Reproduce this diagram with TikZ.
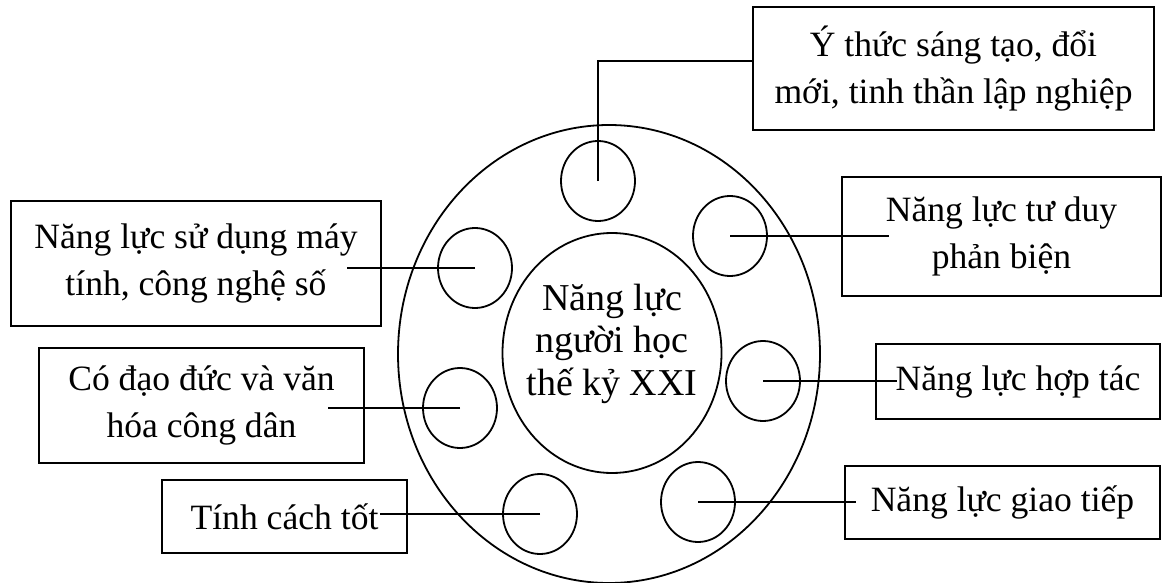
\documentclass[tikz,border=0pt]{standalone}
\usepackage{fontspec}
\setmainfont{Liberation Serif}
\usetikzlibrary{shapes.geometric}

\begin{document}
\begin{tikzpicture}[x=0.5pt, y=-0.5pt,
    box/.style={draw, fill=white, align=center, inner sep=0pt,
        line width=0.8pt,
        font=\fontsize{17.8}{23.5}\selectfont},
    ring/.style={draw, ellipse, inner sep=0pt, line width=0.9pt,
        minimum width=37pt, minimum height=40pt}]

    \useasboundingbox (0,0) rectangle (1162,583);

    % rings
    \node[draw, ellipse, line width=0.9pt,
        minimum width=211pt,
        minimum height=229pt]
        (outer) at (609,354) {};

    \node[draw, ellipse, line width=0.9pt,
        minimum width=109.5pt,
        minimum height=120pt,
        inner xsep=-6pt,
        inner ysep=0pt,
        align=center,
        font=\fontsize{19}{21.2}\selectfont]
        (inner) at (612,353) {Năng lực\\người học\\thế kỷ XXI\\[-8pt]};

    \node[ring] (top) at (598,181) {};
    \node[ring] (rtop) at (730,236) {};
    \node[ring] (ltop) at (475,268) {};
    \node[ring] (rmid) at (763,381) {};
    \node[ring] (lmid) at (460,408) {};
    \node[ring] (lbot) at (540,514) {};
    \node[ring] (rbot) at (698,502) {};

    % boxes
    \node[box,
        minimum width=200.5pt,
        minimum height=61.5pt]
        (ythuc) at (953.5,68.5) {Ý thức sáng tạo, đổi\\mới, tinh thần lập nghiệp};

    \node[box,
        minimum width=159.5pt,
        minimum height=59.5pt]
        (tuduy) at (1001.5,236.5) {Năng lực tư duy\\phản biện};

    \node[box,
        minimum width=142pt,
        minimum height=37.5pt]
        (hoptac) at (1018,381.5) {Năng lực hợp tác};

    \node[box,
        minimum width=157.5pt,
        minimum height=36.5pt]
        (giaotiep) at (1002.5,502.5) {Năng lực giao tiếp};

    \node[box,
        minimum width=185pt,
        minimum height=62.5pt]
        (maytinh) at (196,263.5) {Năng lực sử dụng máy\\tính, công nghệ số};

    \node[box,
        minimum width=162.5pt,
        minimum height=57.5pt]
        (daoduc) at (201.5,405.5) {Có đạo đức và văn\\hóa công dân};

    \node[box,
        minimum width=122.5pt,
        minimum height=36.5pt]
        (tinhcach) at (284.5,516.5) {Tính cách tốt};

    % line ends
    \coordinate (bend) at (598,61);
    \coordinate (tuduyend) at (889,236);
    \coordinate (hoptacend) at (897,381);
    \coordinate (giaotiepend) at (856,502);
    \coordinate (maytinhend) at (347,268);
    \coordinate (daoducend) at (328,408);
    \coordinate (tinhcachend) at (380,514);

    % connectors
    \draw[line width=0.7pt] (top.center) -- (bend) -- (bend -| ythuc.west);
    \draw[line width=0.7pt] (rtop.center) -- (tuduyend);
    \draw[line width=0.7pt] (rmid.center) -- (hoptacend);
    \draw[line width=0.7pt] (rbot.center) -- (giaotiepend);
    \draw[line width=0.7pt] (ltop.center) -- (maytinhend);
    \draw[line width=0.7pt] (lmid.center) -- (daoducend);
    \draw[line width=0.7pt] (lbot.center) -- (tinhcachend);

\end{tikzpicture}
\end{document}
